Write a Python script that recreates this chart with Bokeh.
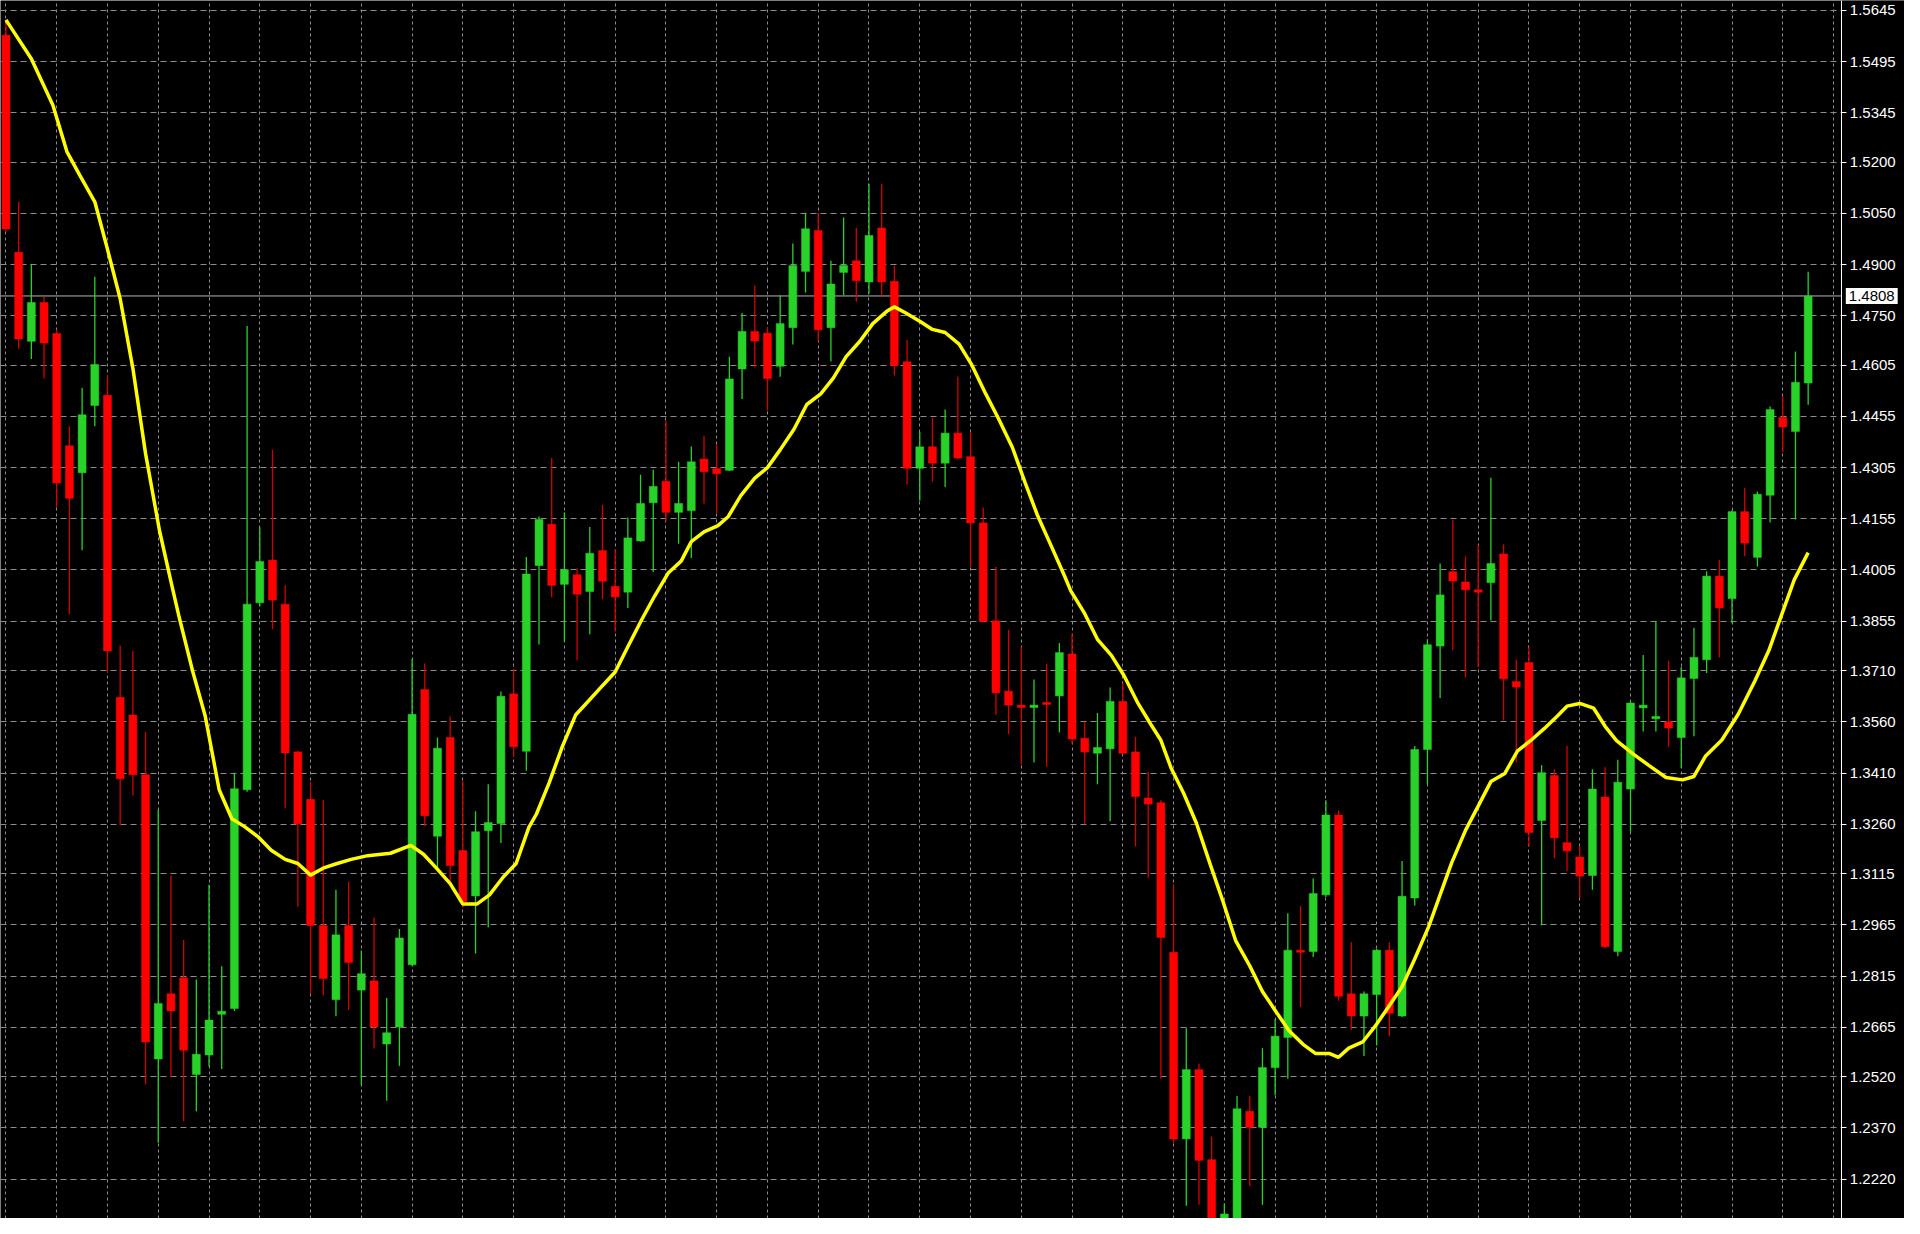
from bokeh.plotting import figure
from bokeh.models import (ColumnDataSource, FixedTicker, Span, Label, Grid, LinearAxis,
                          PrintfTickFormatter, BoxAnnotation)
from bokeh.embed import file_html
from bokeh.resources import INLINE

# ---- data (one value per candle) ----
opens = [1.5572, 1.4936, 1.4675, 1.4789, 1.4698, 1.4369, 1.4290, 1.4487, 1.4517, 1.3632,
         1.3580, 1.3405, 1.2572, 1.2763, 1.2810, 1.2527, 1.2584, 1.2703, 1.2720, 1.3361,
         1.3909, 1.4034, 1.3905, 1.3472, 1.3333, 1.2963, 1.2746, 1.2963, 1.2774, 1.2801,
         1.2616, 1.2666, 1.2848, 1.3655, 1.3225, 1.3514, 1.3183, 1.3050, 1.3241, 1.3262,
         1.3642, 1.3474, 1.4018, 1.4139, 1.3963, 1.3991, 1.3942, 1.4062, 1.3957, 1.3940,
         1.4090, 1.4202, 1.4265, 1.4174, 1.4179, 1.4330, 1.4302, 1.4297, 1.4594, 1.4704,
         1.4699, 1.4602, 1.4715, 1.4880, 1.5000, 1.4715, 1.4877, 1.4911, 1.4849, 1.5007,
         1.4851, 1.4615, 1.4303, 1.4366, 1.4318, 1.4406, 1.4337, 1.4143, 1.3856, 1.3650,
         1.3609, 1.3602, 1.3617, 1.3636, 1.3759, 1.3512, 1.3468, 1.3481, 1.3620, 1.3472,
         1.3337, 1.3323, 1.2885, 1.2338, 1.2541, 1.2277, 1.2060, 1.2080, 1.2419, 1.2372,
         1.2547, 1.2635, 1.2891, 1.2887, 1.3053, 1.3287, 1.2763, 1.2698, 1.2761, 1.2891,
         1.2698, 1.3044, 1.3479, 1.3782, 1.4000, 1.3970, 1.3947, 1.3968, 1.4052, 1.3678,
         1.3734, 1.3271, 1.3403, 1.3206, 1.3164, 1.3110, 1.3340, 1.2887, 1.3363, 1.3601,
         1.3569, 1.3560, 1.3514, 1.3687, 1.3742, 1.3987, 1.3921, 1.4176, 1.4042, 1.4224,
         1.4452, 1.4411, 1.4553]
highs = [1.5610, 1.5084, 1.4902, 1.4805, 1.4709, 1.4426, 1.4539, 1.4864, 1.4573, 1.3784,
         1.3768, 1.3530, 1.3303, 1.3110, 1.2921, 1.2805, 1.3083, 1.2844, 1.3411, 1.4720,
         1.4130, 1.4357, 1.3960, 1.3475, 1.3384, 1.3330, 1.3068, 1.3091, 1.2890, 1.2987,
         1.2751, 1.2953, 1.3744, 1.3731, 1.3514, 1.3576, 1.3386, 1.3298, 1.3377, 1.3649,
         1.3715, 1.4043, 1.4162, 1.4333, 1.4174, 1.4010, 1.4131, 1.4196, 1.4065, 1.4159,
         1.4284, 1.4299, 1.4441, 1.4322, 1.4367, 1.4398, 1.4372, 1.4630, 1.4758, 1.4839,
         1.4715, 1.4810, 1.4962, 1.5052, 1.5052, 1.4911, 1.5038, 1.5007, 1.5137, 1.5137,
         1.4897, 1.4679, 1.4410, 1.4451, 1.4475, 1.4572, 1.4410, 1.4188, 1.4014, 1.3830,
         1.3779, 1.3684, 1.3730, 1.3791, 1.3818, 1.3560, 1.3586, 1.3661, 1.3674, 1.3516,
         1.3414, 1.3330, 1.3084, 1.2662, 1.2558, 1.2345, 1.2149, 1.2464, 1.2464, 1.2604,
         1.2689, 1.2999, 1.3020, 1.3101, 1.3330, 1.3301, 1.2914, 1.2770, 1.2895, 1.2914,
         1.3152, 1.3489, 1.3802, 1.4024, 1.4152, 1.4045, 1.4078, 1.4275, 1.4080, 1.3743,
         1.3779, 1.3433, 1.3421, 1.3490, 1.3194, 1.3421, 1.3427, 1.3449, 1.3619, 1.3756,
         1.3855, 1.3739, 1.3721, 1.3836, 1.4001, 1.4034, 1.4180, 1.4245, 1.4235, 1.4484,
         1.4514, 1.4645, 1.4879]
lows = [1.4995, 1.4653, 1.4623, 1.4566, 1.4188, 1.3875, 1.4063, 1.4426, 1.3706, 1.3257,
        1.3344, 1.2497, 1.2327, 1.2520, 1.2390, 1.2419, 1.2550, 1.2543, 1.2713, 1.3355,
        1.3899, 1.3832, 1.3307, 1.3018, 1.2762, 1.2759, 1.2697, 1.2716, 1.2496, 1.2603,
        1.2450, 1.2552, 1.2845, 1.3254, 1.3132, 1.3086, 1.3016, 1.2881, 1.2958, 1.3205,
        1.3457, 1.3417, 1.3787, 1.3926, 1.3794, 1.3740, 1.3817, 1.3919, 1.3824, 1.3894,
        1.4088, 1.3999, 1.4147, 1.4082, 1.4040, 1.4200, 1.4170, 1.4295, 1.4506, 1.4599,
        1.4472, 1.4571, 1.4666, 1.4818, 1.4676, 1.4616, 1.4810, 1.4791, 1.4815, 1.4810,
        1.4575, 1.4255, 1.4208, 1.4264, 1.4248, 1.4330, 1.4014, 1.3852, 1.3581, 1.3524,
        1.3435, 1.3441, 1.3429, 1.3529, 1.3496, 1.3260, 1.3377, 1.3269, 1.3465, 1.3195,
        1.3103, 1.2514, 1.2325, 1.2142, 1.2145, 1.2000, 1.2000, 1.2050, 1.2199, 1.2145,
        1.2466, 1.2514, 1.2725, 1.2871, 1.3047, 1.2743, 1.2658, 1.2581, 1.2612, 1.2639,
        1.2695, 1.3022, 1.3377, 1.3630, 1.3770, 1.3690, 1.3720, 1.3857, 1.3564, 1.3442,
        1.3196, 1.2964, 1.3160, 1.3122, 1.3044, 1.3068, 1.2897, 1.2873, 1.3238, 1.3532,
        1.3532, 1.3487, 1.3425, 1.3518, 1.3703, 1.3749, 1.3849, 1.4045, 1.4015, 1.4144,
        1.4351, 1.4153, 1.4489]
closes = [1.5004, 1.4682, 1.4789, 1.4670, 1.4260, 1.4215, 1.4460, 1.4607, 1.3768, 1.3393,
          1.3405, 1.2622, 1.2735, 1.2713, 1.2598, 1.2586, 1.2686, 1.2712, 1.3364, 1.3905,
          1.4030, 1.3917, 1.3469, 1.3261, 1.2963, 1.2808, 1.2936, 1.2855, 1.2822, 1.2666,
          1.2649, 1.2927, 1.3582, 1.3285, 1.3483, 1.3139, 1.3033, 1.3238, 1.3265, 1.3635,
          1.3487, 1.3993, 1.4153, 1.3960, 1.4006, 1.3934, 1.4054, 1.3972, 1.3926, 1.4099,
          1.4200, 1.4250, 1.4174, 1.4200, 1.4322, 1.4293, 1.4287, 1.4565, 1.4704, 1.4676,
          1.4566, 1.4727, 1.4897, 1.5005, 1.4709, 1.4843, 1.4897, 1.4853, 1.4985, 1.4849,
          1.4604, 1.4303, 1.4366, 1.4318, 1.4406, 1.4333, 1.4143, 1.3854, 1.3645, 1.3609,
          1.3602, 1.3609, 1.3611, 1.3763, 1.3510, 1.3472, 1.3485, 1.3620, 1.3468, 1.3341,
          1.3319, 1.2928, 1.2338, 1.2541, 1.2275, 1.2050, 1.2118, 1.2426, 1.2372, 1.2547,
          1.2639, 1.2891, 1.2885, 1.3057, 1.3287, 1.2756, 1.2698, 1.2763, 1.2891, 1.2706,
          1.3049, 1.3479, 1.3786, 1.3932, 1.3973, 1.3947, 1.3940, 1.4024, 1.3686, 1.3662,
          1.3236, 1.3411, 1.3220, 1.3182, 1.3108, 1.3363, 1.2901, 1.3383, 1.3615, 1.3609,
          1.3576, 1.3542, 1.3689, 1.3749, 1.3987, 1.3894, 1.4176, 1.4084, 1.4227, 1.4475,
          1.4424, 1.4555, 1.4808]

# yellow moving-average line (bar position, price)
ma_x = [0.0, 2.0, 3.7, 4.8, 5.8, 7.0, 7.9, 9.0, 10.0, 11.0, 12.1, 13.1, 13.6, 14.7, 15.7,
        16.8, 17.8, 18.8, 19.9, 20.9, 22.0, 23.0, 24.0, 25.1, 26.1, 27.2, 28.5, 30.3, 31.9,
        32.9, 33.9, 35.0, 36.0, 37.1, 38.1, 39.2, 40.2, 41.2, 41.8, 42.8, 43.8, 44.9, 45.9,
        47.0, 48.0, 49.0, 50.1, 51.1, 52.2, 53.2, 54.0, 55.0, 56.1, 56.9, 57.9, 59.0, 60.0,
        61.0, 62.1, 63.1, 64.2, 65.2, 66.2, 67.3, 68.3, 69.4, 70.0, 70.9, 72.0, 73.0, 74.0,
        75.1, 76.1, 77.2, 78.2, 79.3, 80.3, 81.3, 82.4, 83.4, 83.9, 85.0, 86.0, 87.1, 88.1,
        89.2, 90.2, 91.0, 91.8, 92.8, 93.8, 94.9, 95.9, 96.9, 98.0, 99.0, 100.1, 101.1,
        102.2, 103.2, 104.3, 105.0, 105.8, 106.9, 107.9, 108.9, 110.0, 111.0, 112.1, 112.9,
        113.9, 115.0, 116.0, 117.0, 118.1, 119.1, 120.1, 121.2, 122.2, 123.0, 124.0, 125.1,
        126.0, 126.9, 128.2, 129.5, 130.8, 132.1, 133.0, 133.9, 135.2, 136.5, 137.8, 138.9,
        139.9, 140.9, 142.0]
ma_y = [1.5617, 1.5503, 1.5367, 1.5231, 1.5163, 1.5084, 1.4959, 1.4800, 1.4596, 1.4346,
        1.4120, 1.3955, 1.3874, 1.3710, 1.3577, 1.3361, 1.3276, 1.3253, 1.3222, 1.3184,
        1.3157, 1.3145, 1.3111, 1.3133, 1.3145, 1.3157, 1.3168, 1.3175, 1.3198, 1.3172,
        1.3132, 1.3086, 1.3026, 1.3026, 1.3053, 1.3106, 1.3145, 1.3251, 1.3290, 1.3381,
        1.3484, 1.3581, 1.3621, 1.3666, 1.3706, 1.3780, 1.3860, 1.3928, 1.3997, 1.4031,
        1.4088, 1.4117, 1.4135, 1.4161, 1.4223, 1.4274, 1.4305, 1.4357, 1.4418, 1.4490,
        1.4521, 1.4568, 1.4630, 1.4676, 1.4727, 1.4763, 1.4776, 1.4758, 1.4734, 1.4710,
        1.4701, 1.4667, 1.4606, 1.4521, 1.4449, 1.4364, 1.4261, 1.4163, 1.4072, 1.3988,
        1.3944, 1.3877, 1.3802, 1.3755, 1.3695, 1.3614, 1.3553, 1.3506, 1.3425, 1.3350,
        1.3263, 1.3141, 1.3033, 1.2918, 1.2845, 1.2770, 1.2709, 1.2655, 1.2615, 1.2588,
        1.2588, 1.2577, 1.2604, 1.2622, 1.2669, 1.2723, 1.2784, 1.2865, 1.2960, 1.3043,
        1.3146, 1.3242, 1.3313, 1.3385, 1.3409, 1.3475, 1.3504, 1.3540, 1.3576, 1.3606,
        1.3614, 1.3600, 1.3547, 1.3505, 1.3466, 1.3431, 1.3397, 1.3390, 1.3400, 1.3459,
        1.3507, 1.3583, 1.3680, 1.3769, 1.3873, 1.3976, 1.4056]

y_tick_labels = ["1.5645", "1.5495", "1.5345", "1.5200", "1.5050", "1.4900", "1.4750",
                 "1.4605", "1.4455", "1.4305", "1.4155", "1.4005", "1.3855", "1.3710",
                 "1.3560", "1.3410", "1.3260", "1.3115", "1.2965", "1.2815", "1.2665",
                 "1.2520", "1.2370", "1.2220"]
bars_per_grid = 4

# ---- layout / styles ----
X_START, X_END = -0.43, 149.59      # visible bar-index span (plot + price scale strip)
AXIS_AT = 144.65                    # bar-index position of the price-scale line
Y_START, Y_END = 1.21047, 1.56738
UP = "#28d228"
DOWN = "#ff0000"
UP_WICK = "#28d228"
DOWN_WICK = "#d40000"
GRID = "#8c8c8c"

n = len(opens)
idx = list(range(n))
is_up = [c >= o for o, c in zip(opens, closes)]
src = ColumnDataSource(dict(
    x=idx,
    top=[max(o, c) for o, c in zip(opens, closes)],
    bottom=[min(o, c) for o, c in zip(opens, closes)],
    high=highs,
    low=lows,
    color=[UP if u else DOWN for u in is_up],
    wick=[UP_WICK if u else DOWN_WICK for u in is_up],
))

p = figure(width=1904, height=1218,
           x_range=(X_START, X_END), y_range=(Y_START, Y_END),
           output_backend="svg", toolbar_location=None,
           x_axis_location=None, y_axis_location=None,
           min_border_left=0, min_border_top=0, min_border_bottom=0, min_border_right=0,
           background_fill_color="black", border_fill_color="black",
           outline_line_color=None)

# grids
p.grid.visible = False
p.add_layout(Grid(dimension=1, ticker=FixedTicker(ticks=[float(s) for s in y_tick_labels]),
                  grid_line_color=GRID, grid_line_dash="6 4", grid_line_width=1))
p.add_layout(Grid(dimension=0, ticker=FixedTicker(ticks=list(range(0, n + 3, bars_per_grid))),
                  grid_line_color=GRID, grid_line_dash="3 3", grid_line_width=1))

# current price line
p.add_layout(Span(location=closes[-1], dimension="width", line_color="#b4b4b4",
                  line_width=1, level="underlay"))

# black strip behind the price scale
p.add_layout(BoxAnnotation(left=AXIS_AT, fill_color="black", fill_alpha=1.0,
                           line_color=None, level="underlay"))

# candles
p.segment(x0="x", y0="low", x1="x", y1="high", line_color="wick", line_width=1.3, source=src)
p.vbar(x="x", top="top", bottom="bottom", width=0.625, fill_color="color",
       line_color="color", line_width=0.5, source=src)

# moving average
p.line(ma_x, ma_y, line_color="#ffff00", line_width=3.5)

# right price axis, drawn at the price-scale line
ax = LinearAxis(fixed_location=AXIS_AT)
ax.ticker = FixedTicker(ticks=[float(s) for s in y_tick_labels])
ax.formatter = PrintfTickFormatter(format="%.4f")
ax.axis_line_color = "white"
ax.major_tick_line_color = "white"
ax.major_tick_in = 0
ax.major_tick_out = 5
ax.minor_tick_line_color = None
ax.major_label_text_color = "white"
ax.major_label_text_font = "Liberation Sans"
ax.major_label_text_font_size = "15px"
ax.major_label_standoff = 3
p.add_layout(ax, "right")

# current price tag on the scale
p.add_layout(Label(x=AXIS_AT, y=closes[-1], x_offset=4,
                   text="%.4f" % closes[-1], text_color="black",
                   text_font="Liberation Sans", text_font_size="15px",
                   text_baseline="middle", text_align="left",
                   background_fill_color="white", padding=3))

open("out.html", "w").write(file_html(p, INLINE))
